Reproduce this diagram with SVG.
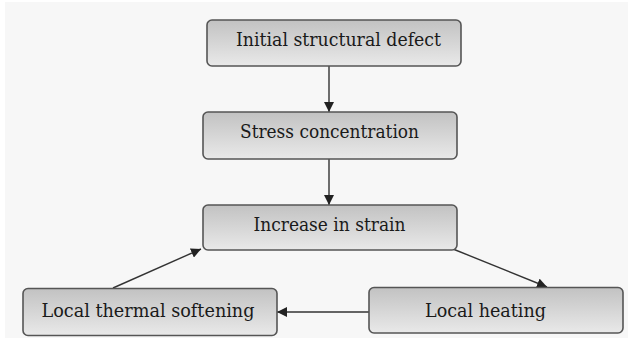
<svg xmlns="http://www.w3.org/2000/svg" width="631" height="340" viewBox="0 0 631 340">
<defs>
<linearGradient id="g" x1="0" y1="0" x2="0" y2="1">
<stop offset="0" stop-color="#c2c2c2"/>
<stop offset="1" stop-color="#e9e9e9"/>
</linearGradient>
<marker id="ah" viewBox="0 0 10 10" refX="10" refY="5" markerWidth="10" markerHeight="10" markerUnits="userSpaceOnUse" orient="auto">
<path d="M0,0 L10,5 L0,10 z" fill="#222"/>
</marker>
<style>
.box{fill:url(#g);stroke:#555;stroke-width:1.6}
.t{font-family:"DejaVu Serif",serif;font-size:18px;fill:#1a1a1a;text-anchor:middle}
.c{stroke:#333;stroke-width:1.4;fill:none;marker-end:url(#ah)}
</style>
</defs>
<rect x="0" y="0" width="631" height="340" fill="#ffffff"/>
<rect x="5" y="2" width="623" height="336" fill="#f7f7f7"/>
<g id="connectors">
<line class="c" x1="329" y1="66" x2="329" y2="112"/>
<line class="c" x1="329" y1="159" x2="329" y2="205"/>
<line class="c" x1="453" y1="249" x2="547" y2="287"/>
<line class="c" x1="369" y1="312" x2="277" y2="312"/>
<line class="c" x1="113" y1="288" x2="201" y2="249"/>
</g>
<g id="n1"><rect class="box" x="207" y="20" width="254" height="46" rx="5"/><text class="t" x="338.5" y="45.5" textLength="205" lengthAdjust="spacingAndGlyphs">Initial structural defect</text></g>
<g id="n2"><rect class="box" x="203" y="112" width="254" height="47" rx="5"/><text class="t" x="329.5" y="137.5" textLength="179" lengthAdjust="spacingAndGlyphs">Stress concentration</text></g>
<g id="n3"><rect class="box" x="203" y="205" width="254" height="45" rx="5"/><text class="t" x="329.5" y="230.5" textLength="152" lengthAdjust="spacingAndGlyphs">Increase in strain</text></g>
<g id="n4"><rect class="box" x="23" y="288.5" width="254" height="47" rx="5"/><text class="t" x="148" y="316.5" textLength="213" lengthAdjust="spacingAndGlyphs">Local thermal softening</text></g>
<g id="n5"><rect class="box" x="369" y="287.5" width="254" height="45.5" rx="5"/><text class="t" x="485.5" y="316.5" textLength="121" lengthAdjust="spacingAndGlyphs">Local heating</text></g>
</svg>
